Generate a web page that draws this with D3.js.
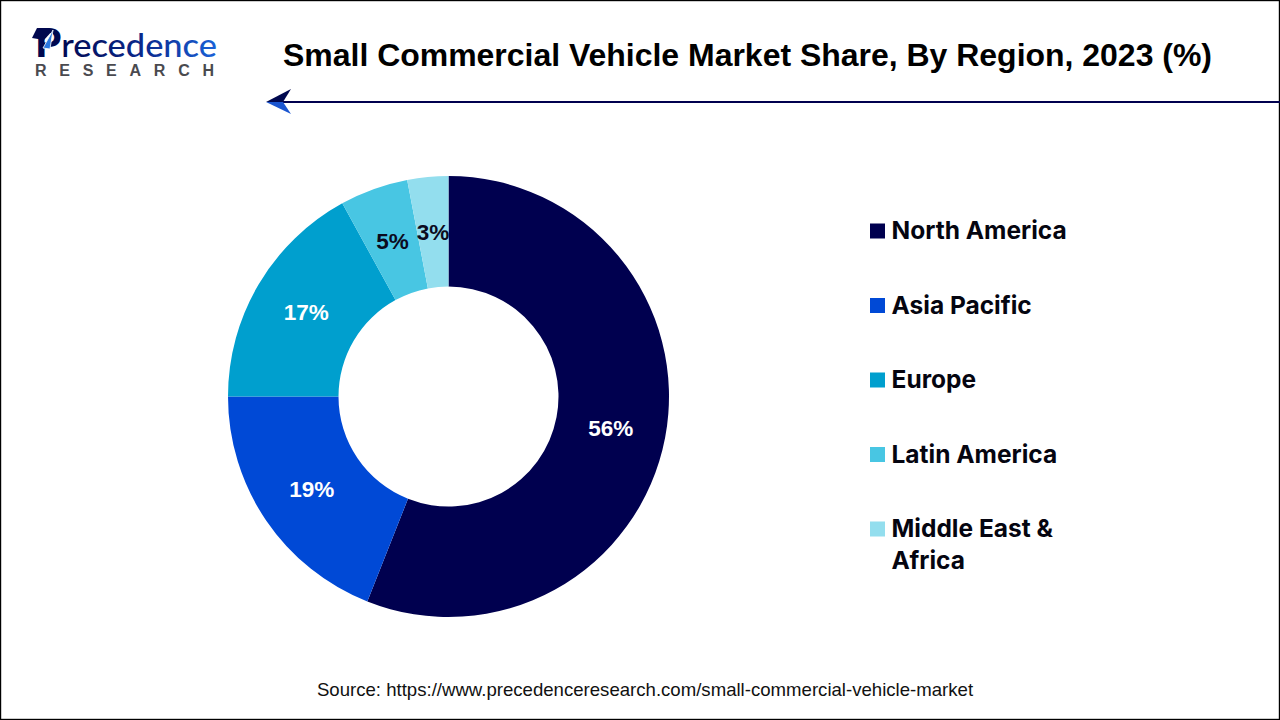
<!DOCTYPE html>
<html><head><meta charset="utf-8">
<script src="https://cdn.jsdelivr.net/npm/d3@7/dist/d3.min.js"></script>
<style>html,body{margin:0;padding:0;background:#fff}svg{display:block}</style></head>
<body><svg id="c" width="1280" height="720"></svg>
<script>
const categories = ["North America","Asia Pacific","Europe","Latin America","Middle East & Africa"];
const shares = [56,19,17,5,3];
const sliceColors = ["#00004f","#0049d6","#009fce","#48c6e3","#93deee"];
const labelColors = ["#fff","#fff","#fff","#0b0b1e","#0b0b1e"];
const titleText = "Small Commercial Vehicle Market Share, By Region, 2023 (%)";
const sourceText = "Source: https://www.precedenceresearch.com/small-commercial-vehicle-market";

const svg = d3.select("#c");
const sans = "'Liberation Sans',Arial,sans-serif";
const defs = svg.append("defs");
const g1 = defs.append("linearGradient").attr("id","logoGrad").attr("gradientUnits","userSpaceOnUse").attr("x1",58).attr("x2",217).attr("y1",0).attr("y2",0);
g1.append("stop").attr("offset","0").attr("stop-color","#00084f");
g1.append("stop").attr("offset","0.55").attr("stop-color","#0a2a8f");
g1.append("stop").attr("offset","1").attr("stop-color","#1a62d8");

// frame
svg.append("rect").attr("x",0.5).attr("y",0.5).attr("width",1279).attr("height",719).attr("fill","#fff").attr("stroke","#000").attr("stroke-width",1.4);

// logo
const logo = svg.append("g");
const word = logo.append("text").attr("x",35).attr("y",57).attr("font-family","Lato,sans-serif").attr("textLength",182).attr("lengthAdjust","spacingAndGlyphs");
word.append("tspan").attr("font-weight",900).attr("font-size",39).attr("fill","#00084f").text("P");
word.append("tspan").attr("font-weight",500).attr("font-size",32).attr("fill","url(#logoGrad)").text("recedence");
logo.append("path").attr("d","M32 38 L44 40 L54 29 L37 28 Z").attr("fill","#00084f");
logo.append("path").attr("d","M43 48 L53 30 L50 49 Z").attr("fill","#2a78e0").attr("stroke","#fff").attr("stroke-width",0.8);
logo.append("text").attr("x",35).attr("y",76).attr("font-family",sans).attr("font-weight",700).attr("font-size",16).attr("textLength",179).attr("fill","#4a4a4f").text("RESEARCH");

// title
svg.append("text").attr("x",747.5).attr("y",66).attr("text-anchor","middle").attr("font-family",sans).attr("font-weight",700).attr("font-size",31).attr("textLength",929).attr("lengthAdjust","spacingAndGlyphs").attr("fill","#000").text(titleText);

// arrow
svg.append("line").attr("x1",282).attr("x2",1280).attr("y1",102).attr("y2",102).attr("stroke","#00004f").attr("stroke-width",2);
svg.append("path").attr("d","M266 102 L291 89 L283 102 Z").attr("fill","#00084f");
svg.append("path").attr("d","M266 102 L291 114 L283 102 Z").attr("fill","#1a55d0");

// donut
const cx=448.5, cy=396.5, R=220.5, r=110;
const color = d3.scaleOrdinal().domain(categories).range(sliceColors);
const textColor = d3.scaleOrdinal().domain(categories).range(labelColors);
const pie = d3.pie().sort(null).value((d,i)=>shares[i]);
const arc = d3.arc().innerRadius(r).outerRadius(R);
const donut = svg.append("g").attr("transform",`translate(${cx},${cy})`);
const arcs = pie(categories);
donut.selectAll("path").data(arcs).join("path").attr("d",arc).attr("fill",d=>color(d.data));
donut.selectAll("text").data(arcs).join("text")
  .attr("transform",d=>`translate(${arc.centroid(d)})`)
  .attr("text-anchor","middle").attr("dy","0.36em")
  .attr("font-family",sans).attr("font-weight",700).attr("font-size",22.5)
  .attr("fill",d=>textColor(d.data)).text((d,i)=>shares[i]+"%");

// legend
const legendY = d3.scalePoint().domain(categories).range([231,529]);
const lg = svg.append("g").selectAll("g").data(categories).join("g").attr("transform",d=>`translate(870,${legendY(d)})`);
lg.append("rect").attr("y",-7.5).attr("width",15).attr("height",15).attr("fill",d=>color(d));
const lt = lg.append("text").attr("font-family","Inter,sans-serif").attr("font-weight",700).attr("font-size",24.5).attr("fill","#050510");
lt.each(function(d){
  const t=d3.select(this);
  const lines = d==="Middle East & Africa" ? ["Middle East &","Africa"] : [d];
  lines.forEach((s,i)=>t.append("tspan").attr("x",21.5).attr("y",8+i*32).text(s));
});

// source
svg.append("text").attr("x",645).attr("y",696).attr("text-anchor","middle").attr("font-family",sans).attr("font-size",18.6).attr("fill","#111").text(sourceText);
</script></body></html>
